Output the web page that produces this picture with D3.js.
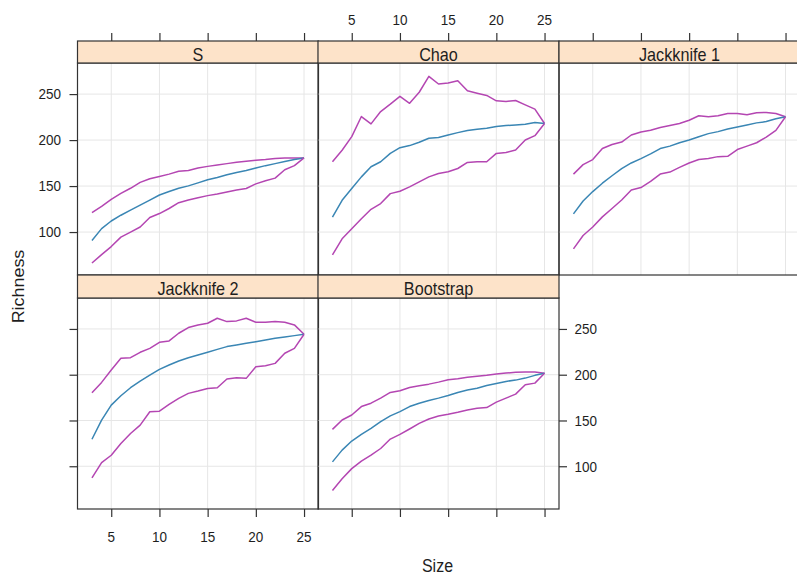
<!DOCTYPE html>
<html>
<head>
<meta charset="utf-8">
<script src="https://cdn.jsdelivr.net/npm/d3@7"></script>
<style>
  html, body { margin: 0; padding: 0; background: #fff; }
  svg { display: block; }
  text { font-family: "Liberation Sans", Arial, sans-serif; fill: #1e1e1e; }
</style>
</head>
<body>
<svg id="chart" width="797" height="576"></svg>
<script>
// ---------------- data ----------------
const panels = ["S", "Chao", "Jackknife 1", "Jackknife 2", "Bootstrap"];
const sizes = [3,4,5,6,7,8,9,10,11,12,13,14,15,16,17,18,19,20,21,22,23,24,25];
const xTicks = [5, 10, 15, 20, 25];
const yTicks = [100, 150, 200, 250];

const sUpper = [121,128,135.5,142,147.6,154,158,160.4,163,166,167,169.6,171.4,173,174.4,176,177,178,178.8,180,180.6,180.6,180.6];
const sMean  = [90.8,103.7,112,118.3,123.8,129.3,134.8,140.3,144,147.6,150.2,153.5,156.8,159.3,162.3,164.8,167,169.6,172.2,174.4,176.6,178.8,180.6];
const sLower = [66.3,75.5,84.2,94.5,100,105.5,115.8,120.1,125.6,131.9,134.8,137.4,139.6,141.4,143.6,145.8,147.3,152.4,155.7,158.6,167.8,172.2,180.6];

const chaoUpper = [176.4,189,203.7,225.6,217.6,231,239,247.5,240,252,269.3,261,262,264.6,253.6,251,248.5,242.7,242,243,238.3,233.6,218];
const chaoMean  = [116.3,134.5,147.3,160,171,176.4,185.5,191.7,194,197.6,202,202.7,205.6,208.1,210.3,211.8,212.9,214.7,215.8,216.5,217.2,219,218];
const chaoLower = [75.2,92.7,103.6,114.5,124.7,131,141.8,144.4,149.1,154.6,160,163.7,165.5,169.1,175.7,176.4,176.4,185.5,186.6,189.2,200.1,204.8,218];

const jack1Upper = [163,173.3,178.8,190.8,195.2,197.8,205.5,208.8,210.6,213.6,215.8,218,221.6,226.4,225.3,226.4,228.9,228.9,227.5,229.7,230,228.9,225.3];
const jack1Mean  = [119.8,133.7,144,153.1,161.2,168.9,175.1,179.9,185,190.8,193.4,197.1,200,203.7,207,209.2,212.1,214.3,216.5,218.7,220.1,223.1,225.3];
const jack1Lower = [81.7,96.3,105.5,116.5,125.6,134.8,145.8,148.4,155,163,165.2,170.3,175.1,178.8,179.9,182,182.4,189.7,193.4,197.1,203.3,210.6,225.3];

const jack2Upper = [180.3,191.6,205.1,217.9,218.6,224.5,228.8,235.4,236.9,245.3,251.5,254.4,256.2,261.7,258,258.8,261.7,257.3,257.3,258,257.3,254.4,244.2];
const jack2Mean  = [129.5,150.4,166.8,177,185.8,193.1,199.6,205.8,210.6,215,218.6,221.5,224.5,227.7,230.7,232.5,234.3,236.1,238,239.8,241.2,242.7,244.2];
const jack2Lower = [87.2,104,112,124.8,135.8,144.9,159.5,160.2,167.5,174.1,179.6,182.1,185,185.8,195.3,196.7,196,208.8,209.9,212.4,223.4,228.8,244.2];

const bootUpper = [140.3,150.5,156,165.2,168.9,174.4,180.6,182.4,186.1,187.9,189.7,191.9,194.5,195.6,197.1,198.2,199.3,200.7,201.8,202.6,202.9,202.9,201.5];
const bootMean  = [104.8,117.6,127.5,134.8,141.4,148.7,155,159.7,165.2,168.9,171.8,174.4,177.3,180.6,183.2,185.3,188.3,190.5,192.7,194.1,196.3,199.3,201.5];
const bootLower = [73.6,86.4,97.4,105.5,112.1,119.4,129.7,134.8,140.7,146.9,151.6,154.9,156.8,159,161.5,163.4,164.1,170,174.4,178.8,189,190.8,201.5];

const panelSeries = {
  "S":           [sUpper, sMean, sLower],
  "Chao":        [chaoUpper, chaoMean, chaoLower],
  "Jackknife 1": [jack1Upper, jack1Mean, jack1Lower],
  "Jackknife 2": [jack2Upper, jack2Mean, jack2Lower],
  "Bootstrap":   [bootUpper, bootMean, bootLower]
};

// ---------------- layout ----------------
const svg = d3.select("#chart");
const colX = [77.5, 318, 559];
const pw = 241;
const rows = [
  { stripTop: 41, plotTop: 63, plotBottom: 275 },
  { stripTop: 275, plotTop: 298, plotBottom: 509 }
];
const xDomain = [1.5, 26.5];
const yDomain = [53.3, 283.8];
const cUpperLower = "#b446b2";
const cMean = "#3a86b4";
const cBorder = "#333333";
const cGrid = "#e6e6e6";
const cStrip = "#fde3c9";
const SY = 1.12; // vertical stretch of glyphs

function label(x, y, txt, size, anchor, rotate) {
  return svg.append("text")
    .attr("transform", rotate
      ? `translate(${x},${y}) rotate(${rotate}) scale(${SY},1)`
      : `translate(${x},${y}) scale(1,${SY})`)
    .attr("text-anchor", anchor)
    .style("font-size", size + "px")
    .text(txt);
}

const layoutPos = [
  { name: "S", col: 0, row: 0 },
  { name: "Chao", col: 1, row: 0 },
  { name: "Jackknife 1", col: 2, row: 0 },
  { name: "Jackknife 2", col: 0, row: 1 },
  { name: "Bootstrap", col: 1, row: 1 }
];

layoutPos.forEach(p => {
  const r = rows[p.row];
  const x0 = colX[p.col];
  const x = d3.scaleLinear().domain(xDomain).range([x0, x0 + pw]);
  const y = d3.scaleLinear().domain(yDomain).range([r.plotBottom, r.plotTop]);
  const g = svg.append("g");

  // grid
  g.selectAll(".gx").data(xTicks).join("line")
    .attr("x1", d => x(d)).attr("x2", d => x(d))
    .attr("y1", r.plotTop).attr("y2", r.plotBottom)
    .attr("stroke", cGrid).attr("stroke-width", 1);
  g.selectAll(".gy").data(yTicks).join("line")
    .attr("x1", x0).attr("x2", x0 + pw)
    .attr("y1", d => y(d)).attr("y2", d => y(d))
    .attr("stroke", cGrid).attr("stroke-width", 1);

  // lines
  const line = d3.line().x((d, i) => x(sizes[i])).y(d => y(d));
  const ser = panelSeries[p.name];
  const cols = [cUpperLower, cMean, cUpperLower];
  ser.forEach((s, k) => {
    g.append("path").datum(s)
      .attr("d", line)
      .attr("fill", "none")
      .attr("stroke", cols[k])
      .attr("stroke-width", 1.5)
      .attr("stroke-linejoin", "round");
  });

  // panel border
  g.append("rect")
    .attr("x", x0).attr("y", r.plotTop)
    .attr("width", pw).attr("height", r.plotBottom - r.plotTop)
    .attr("fill", "none").attr("stroke", cBorder).attr("stroke-width", 1.2);

  // strip
  g.append("rect")
    .attr("x", x0).attr("y", r.stripTop)
    .attr("width", pw).attr("height", r.plotTop - r.stripTop)
    .attr("fill", cStrip).attr("stroke", cBorder).attr("stroke-width", 1.2);
  label(x0 + pw / 2, r.stripTop + 19.5, p.name, 16.2, "middle");

  // axes (ticks)
  const axisStyle = sel => {
    sel.select(".domain").remove();
    sel.selectAll(".tick line").attr("stroke", cBorder).attr("stroke-width", 1.2);
    sel.selectAll(".tick text").remove();
  };
  if (p.row === 0) {
    svg.append("g").attr("transform", `translate(0,${r.stripTop})`)
      .call(d3.axisTop(x).tickValues(xTicks).tickSize(8)).call(axisStyle);
  }
  if (p.row === 1) {
    svg.append("g").attr("transform", `translate(0,${r.plotBottom})`)
      .call(d3.axisBottom(x).tickValues(xTicks).tickSize(8)).call(axisStyle);
  }
  if (p.col === 0) {
    svg.append("g").attr("transform", `translate(${x0},0)`)
      .call(d3.axisLeft(y).tickValues(yTicks).tickSize(8)).call(axisStyle);
  }
  if (p.name === "Bootstrap") {
    svg.append("g").attr("transform", `translate(${x0 + pw},0)`)
      .call(d3.axisRight(y).tickValues(yTicks).tickSize(8)).call(axisStyle);
    yTicks.forEach(v => label(x0 + pw + 15.5, y(v) + 5.4, String(v), 13.5, "start"));
  }
  if (p.name === "S") {
    yTicks.forEach(v => label(x0 - 16.5, y(v) + 5.4, String(v), 13.5, "end"));
  }
  if (p.name === "Chao") {
    xTicks.forEach(v => label(x(v), 25, String(v), 13.5, "middle"));
  }
  if (p.name === "Jackknife 2") {
    xTicks.forEach(v => label(x(v), 541.5, String(v), 13.5, "middle"));
  }
});

// axis titles
label(437.5, 571.5, "Size", 16, "middle");
label(24, 286.5, "Richness", 16, "middle", -90);
</script>
</body>
</html>
